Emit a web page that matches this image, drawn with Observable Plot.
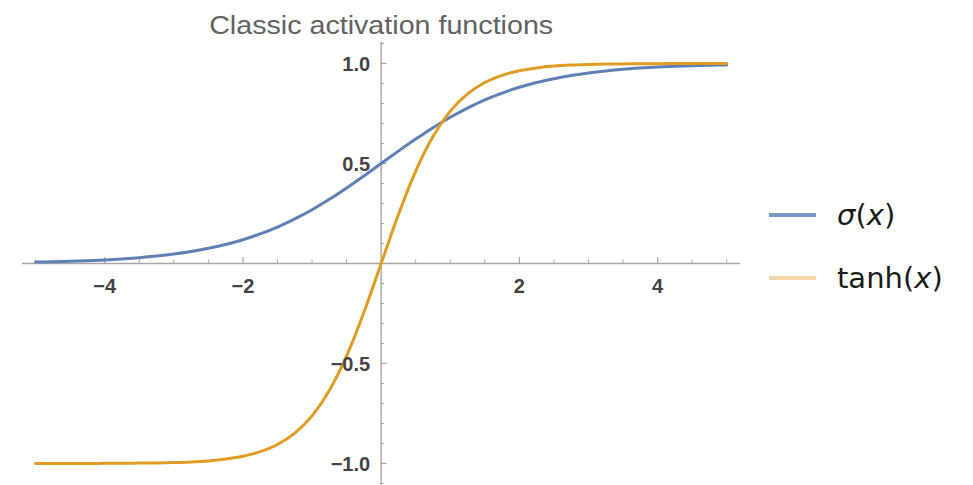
<!DOCTYPE html>
<html>
<head>
<meta charset="utf-8">
<script src="https://cdn.jsdelivr.net/npm/d3@7"></script>
<script src="https://cdn.jsdelivr.net/npm/@observablehq/plot@0.6"></script>
<style>
  html, body { margin: 0; padding: 0; background: #fff; }
  #chart { position: relative; width: 973px; height: 485px; }
  #chart svg { display: block; }
  .legend { position: absolute; left: 0; top: 0; font-family: "DejaVu Sans", sans-serif; color: #1a1a1a; }
  .legend .row { position: absolute; display: flex; align-items: center; white-space: nowrap; }
  .legend .swatch { width: 47px; height: 4px; margin-right: 21px; }
  .legend .label { font-size: 29px; line-height: 32px; }
</style>
</head>
<body>
<div id="chart"></div>
<script>
// Sample positions along x
const xs = [-5, -4.75, -4.5, -4.25, -4, -3.75, -3.5, -3.25, -3, -2.75, -2.5, -2.25, -2, -1.75, -1.5, -1.25, -1, -0.75, -0.5, -0.25,
  0, 0.25, 0.5, 0.75, 1, 1.25, 1.5, 1.75, 2, 2.25, 2.5, 2.75, 3, 3.25, 3.5, 3.75, 4, 4.25, 4.5, 4.75, 5];

// Logistic sigmoid σ(x)
const sigmaValues = [0.007, 0.009, 0.011, 0.014, 0.018, 0.023, 0.029, 0.037, 0.047, 0.060, 0.076, 0.095, 0.119, 0.148, 0.182, 0.223, 0.269, 0.321, 0.378, 0.438,
  0.5, 0.562, 0.622, 0.679, 0.731, 0.777, 0.818, 0.852, 0.881, 0.905, 0.924, 0.940, 0.953, 0.963, 0.971, 0.977, 0.982, 0.986, 0.989, 0.991, 0.993];

// Hyperbolic tangent tanh(x)
const tanhValues = [-1.0, -1.0, -1.0, -1.0, -0.999, -0.999, -0.998, -0.997, -0.995, -0.992, -0.987, -0.978, -0.964, -0.941, -0.905, -0.848, -0.762, -0.635, -0.462, -0.245,
  0, 0.245, 0.462, 0.635, 0.762, 0.848, 0.905, 0.941, 0.964, 0.978, 0.987, 0.992, 0.995, 0.997, 0.998, 0.999, 0.999, 1.0, 1.0, 1.0, 1.0];

// Legend entries: function name (upright or italic) followed by its argument
const seriesNames = ["σ", "tanh"];
const seriesItalic = [true, false];
const titleText = "Classic activation functions";

// Axis ticks and their labels
const xMajorTicks = [-4, -2, 2, 4];
const xTickLabels = ["−4", "−2", "2", "4"];
const xMinorTicks = [-5, -4.5, -3.5, -3, -2.5, -1.5, -1, -0.5, 0.5, 1, 1.5, 2.5, 3, 3.5, 4.5, 5];
const yMajorTicks = [-1, -0.5, 0.5, 1];
const yTickLabels = ["−1.0", "−0.5", "0.5", "1.0"];
const yMinorTicks = [-1.1, -0.9, -0.8, -0.7, -0.6, -0.4, -0.3, -0.2, -0.1, 0.1, 0.2, 0.3, 0.4, 0.6, 0.7, 0.8, 0.9, 1.1];

const colors = ["#5e81b5", "#e19c24"];
const swatchColors = ["#7c97c8", "#f3d5a6"];
const axisColor = "#a6a6a6";

const sigmaData = xs.map((x, i) => ({x, y: sigmaValues[i]}));
const tanhData = xs.map((x, i) => ({x, y: tanhValues[i]}));
const xLabelData = xMajorTicks.map((v, i) => ({v, t: xTickLabels[i]}));
const yLabelData = yMajorTicks.map((v, i) => ({v, t: yTickLabels[i]}));

const font = "Liberation Sans, Arial, sans-serif";

const plot = Plot.plot({
  width: 973,
  height: 485,
  marginLeft: 22,
  marginRight: 233,
  marginTop: 42,
  marginBottom: 0,
  style: {fontFamily: font, background: "white"},
  x: {domain: [-5.19, 5.2], axis: null},
  y: {domain: [-1.11, 1.105], axis: null},
  marks: [
    // axes through the origin
    Plot.ruleY([0], {stroke: axisColor, strokeWidth: 1.4}),
    Plot.ruleX([0], {stroke: axisColor, strokeWidth: 1.4}),
    // tick marks on the x axis (pointing up) and y axis (pointing right)
    Plot.ruleX(xMajorTicks, {x: d => d, y1: 0, y2: 0, insetTop: 0, insetBottom: 6, stroke: axisColor, strokeWidth: 1.2}),
    Plot.ruleX(xMinorTicks, {x: d => d, y1: 0, y2: 0, insetTop: 0, insetBottom: 3.5, stroke: axisColor, strokeWidth: 1}),
    Plot.ruleY(yMajorTicks, {y: d => d, x1: 0, x2: 0, insetLeft: 0, insetRight: -6, stroke: axisColor, strokeWidth: 1.2}),
    Plot.ruleY(yMinorTicks, {y: d => d, x1: 0, x2: 0, insetLeft: 0, insetRight: -3.5, stroke: axisColor, strokeWidth: 1}),
    // curves
    Plot.line(sigmaData, {x: "x", y: "y", stroke: colors[0], strokeWidth: 3, curve: "monotone-x"}),
    Plot.line(tanhData, {x: "x", y: "y", stroke: colors[1], strokeWidth: 3, curve: "monotone-x"}),
    // tick labels
    Plot.text(xLabelData, {x: "v", y: () => 0, text: "t", dy: 23, fontSize: 20, fill: "#444", fontWeight: "bold"}),
    Plot.text(yLabelData, {x: () => 0, y: "v", text: "t", dx: -11, dy: 1.5, textAnchor: "end", fontSize: 20, fill: "#444", fontWeight: "bold"}),
    // title
    Plot.text([titleText], {x: () => 0, frameAnchor: "top", text: d => d, lineAnchor: "bottom", dy: -9, fontSize: 26, fill: "#626262", className: "chart-title"})
  ]
});

document.getElementById("chart").appendChild(plot);

// stretch the title to its drawn width
d3.select(plot).selectAll(".chart-title text").attr("textLength", 344).attr("lengthAdjust", "spacingAndGlyphs");

// legend to the right of the plot
const legend = document.createElement("div");
legend.className = "legend";
const rows = [
  {name: seriesNames[0], italic: seriesItalic[0], color: swatchColors[0], top: 199},
  {name: seriesNames[1], italic: seriesItalic[1], color: swatchColors[1], top: 262}
];
rows.forEach(r => {
  const row = document.createElement("div");
  row.className = "row";
  row.style.left = "769px";
  row.style.top = r.top + "px";
  const sw = document.createElement("div");
  sw.className = "swatch";
  sw.style.background = r.color;
  const lab = document.createElement("span");
  lab.className = "label";
  const fn = document.createElement("span");
  fn.textContent = r.name;
  if (r.italic) fn.style.fontStyle = "italic";
  lab.appendChild(fn);
  lab.appendChild(document.createTextNode("("));
  const arg = document.createElement("i");
  arg.textContent = "x";
  lab.appendChild(arg);
  lab.appendChild(document.createTextNode(")"));
  row.appendChild(sw);
  row.appendChild(lab);
  legend.appendChild(row);
});
document.getElementById("chart").appendChild(legend);
</script>
</body>
</html>
